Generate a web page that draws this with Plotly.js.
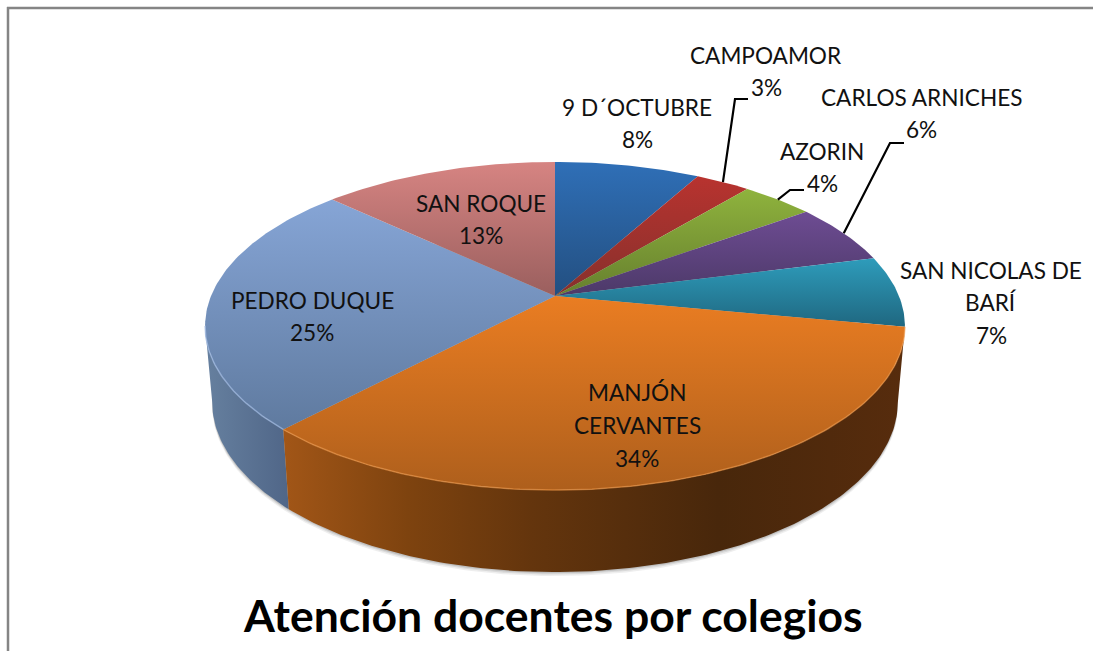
<!DOCTYPE html>
<html><head><meta charset="utf-8">
<script src="https://cdn.plot.ly/plotly-3.0.1.min.js"></script>
<style>html,body{margin:0;padding:0;background:#fff}#c{width:1093px;height:651px}</style>
</head><body><div id="c"></div>
<script>
// ---- data ----
const categories = ["9 D´OCTUBRE","CAMPOAMOR","AZORIN","CARLOS ARNICHES","SAN NICOLAS DE BARÍ","MANJÓN CERVANTES","PEDRO DUQUE","SAN ROQUE"];
const percents   = [8,3,4,6,7,34,25,13];
const topColors    = ["#2f6fb7","#b8332f","#8fb33d","#6e4c93","#2e9cbb","#ea7d22","#86a5d6","#d68482"];
const bottomColors = ["#234f80","#86302c","#667f2e","#4c3968","#1f6780","#ae5f1c","#5f7a9f","#9a5f5e"];

// ---- 3D view of the disc ----
const FONT = "Lato, 'Open Sans', sans-serif";
const cx = 555, k = 0.183;
const topPlane    = {a:344, b:158.6, y0:296};
const bottomPlane = {a:337, b:164.3, y0:371};
function project(frac, p, dy){
  const t = frac*2*Math.PI, u = Math.sin(t), v = Math.cos(t), d = 1 + k*v;
  return [cx + p.a*u/d, p.y0 - p.b*v/d + (dy||0)];
}
function arc(f0, f1, p, dy){
  const n = Math.max(8, Math.ceil((f1-f0)*400)), out = [];
  for(let i=0;i<=n;i++) out.push(project(f0+(f1-f0)*i/n, p, dy));
  return out;
}
function poly(points, extra){
  return Object.assign({type:'scatter', mode:'lines', x:points.map(q=>q[0]), y:points.map(q=>q[1]),
    fill:'toself', line:{width:0}, hoverinfo:'skip', showlegend:false}, extra);
}
const total = percents.reduce((s,v)=>s+v,0);
const starts = []; percents.reduce((s,v,i)=>{starts[i]=s/total; return s+v;},0);
const ends = starts.map((s,i)=>s+percents[i]/total);
const traces = [];

// soft shadow below the disc
[[4,0.10],[2.5,0.14],[1.2,0.20]].forEach(([dy,al])=>{
  traces.push(poly(arc(0,1,bottomPlane,dy),{fillcolor:`rgba(90,90,90,${al})`}));
});

// side walls
const iOrange = categories.indexOf("MANJÓN CERVANTES"), iBlue = categories.indexOf("PEDRO DUQUE");
const silhouette = 0.7208;
function wall(f0,f1,name,scale,x0,x1){
  const pts = arc(f0,f1,topPlane).concat(arc(f0,f1,bottomPlane).reverse());
  traces.push(poly(pts,{name, fillgradient:{type:'horizontal',start:x0,stop:x1,colorscale:scale}}));
}
wall(starts[iBlue], silhouette, categories[iBlue],
     [[0,'#66809f'],[1,'#4f6587']], 205, 292);
wall(starts[iOrange], ends[iOrange], categories[iOrange],
     [[0,'#a25617'],[0.2,'#7e430f'],[0.4,'#64350d'],[0.7,'#48270b'],[1,'#572c0d']], 283, 905);

// top faces
percents.forEach((p,i)=>{
  const pts = [[cx,topPlane.y0]].concat(arc(starts[i],ends[i],topPlane));
  const ys = pts.map(q=>q[1]);
  traces.push(poly(pts,{name:categories[i], fillgradient:{type:'vertical',
    start:Math.min(...ys), stop:Math.max(...ys),
    colorscale:[[0,topColors[i]],[1,bottomColors[i]]]}}));
});

// light rim on the front edge
function rim(f0,f1,color){
  const pts = arc(f0,f1,topPlane);
  traces.push({type:'scatter',mode:'lines',x:pts.map(q=>q[0]),y:pts.map(q=>q[1]),
    line:{color,width:1.5},hoverinfo:'skip',showlegend:false});
}
rim(starts[iOrange],ends[iOrange],'rgba(238,150,70,0.6)');
rim(starts[iBlue],silhouette,'rgba(160,185,225,0.7)');

// ---- labels (one annotation per line, to hold the original line spacing) ----
const labelLines = [
  [["9 D´OCTUBRE"],637,107,32],
  [["CAMPOAMOR"],766,55,32],
  [["AZORIN"],822,151,32],
  [["CARLOS ARNICHES"],921,97,32],
  [["SAN NICOLAS DE","BARÍ"],991,270,32.5],
  [["MANJÓN","CERVANTES"],637,392,33],
  [["PEDRO DUQUE"],312,300,32],
  [["SAN ROQUE"],481,203,32]
];
const annotations = [];
labelLines.forEach((l,i)=>{
  const lines = l[0].concat([percents[i]+'%']);
  lines.forEach((t,j)=>{
    annotations.push({xref:'x',yref:'y',x:l[1],y:l[2]+j*l[3],text:t,showarrow:false,
      xanchor:'center',yanchor:'middle',font:{family:FONT,size:22.6,color:'#111'}});
  });
});
annotations.push({xref:'x',yref:'y',x:553,y:614,text:'<b>Atención docentes por colegios</b>',showarrow:false,
  xanchor:'center',yanchor:'middle',font:{family:FONT,size:44.5,color:'#000'}});

// ---- leader lines from slice edge to label ----
function leader(i,bend,end){
  const s = project((starts[i]+ends[i])/2, topPlane);
  return {type:'path',xref:'x',yref:'y',path:`M${s[0]},${s[1]} L${bend[0]},${bend[1]} L${end[0]},${end[1]}`,
    line:{color:'#000',width:2.2}};
}
const shapes = [
  leader(1,[735,99],[748,99]),
  leader(2,[790,190],[804,190]),
  leader(3,[890,143],[904,143]),
  {type:'line',xref:'x',yref:'y',x0:8,x1:8,y0:7,y1:651,line:{color:'#858585',width:2.5}},
  {type:'line',xref:'x',yref:'y',x0:7,x1:1093,y0:8,y1:8,line:{color:'#858585',width:2.5}}
];

Plotly.newPlot('c',traces,{
  width:1093,height:651,margin:{l:0,r:0,t:0,b:0},
  paper_bgcolor:'#fff',plot_bgcolor:'#fff',showlegend:false,
  xaxis:{range:[0,1093],visible:false,fixedrange:true},
  yaxis:{range:[651,0],visible:false,fixedrange:true},
  annotations,shapes
},{displayModeBar:false,staticPlot:true});
</script></body></html>
